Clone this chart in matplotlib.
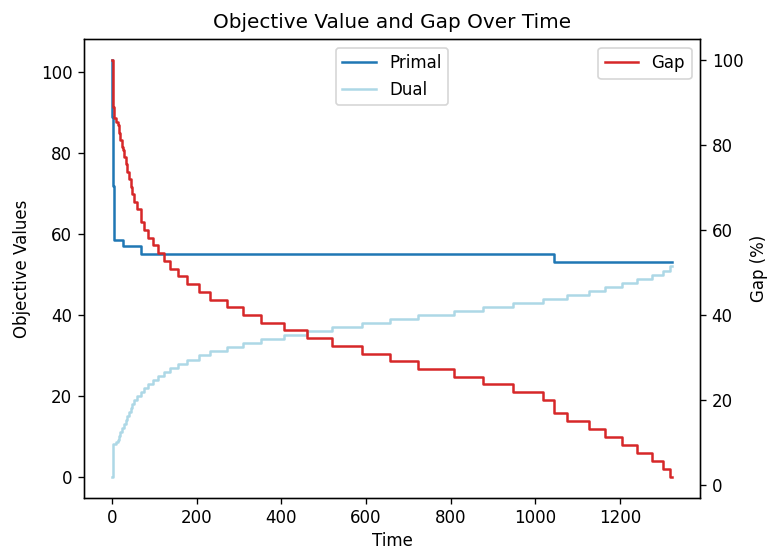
import numpy as np
import matplotlib
matplotlib.use("Agg")
import matplotlib.pyplot as plt

# Primal objective (step changes): time, value
primal_time = [0, 0.5, 1.5, 3.0, 4.5, 25, 68, 1045, 1323]
primal_value = [103, 89, 72, 72, 58.5, 57, 55, 53, 53]

# Dual bound (step changes): time, value
dual_time = [0, 1.5, 10, 13, 16, 20, 24, 28, 32, 36, 40, 44, 48, 53, 60, 68, 76, 84,
             96, 108, 122, 138, 156, 178, 205, 231, 271, 310, 353, 406, 461, 519,
             590, 657, 724, 807, 877, 948, 1019, 1074, 1126, 1165, 1204, 1240,
             1275, 1302, 1318, 1323]
dual_value = [0, 8, 8.5, 9, 10, 11, 12, 13, 14, 15, 16, 17, 18, 19, 20, 21, 22, 23,
              24, 25, 26, 27, 28, 29, 30, 31, 32, 33, 34, 35, 36, 37,
              38, 39, 40, 41, 42, 43, 44, 45, 46, 47, 48, 49,
              50, 51, 52, 52]

# Gap (%) derived from primal and dual on the merged time grid
time_grid = np.unique(np.concatenate([primal_time, dual_time]))
p_idx = np.searchsorted(primal_time, time_grid, side="right") - 1
d_idx = np.searchsorted(dual_time, time_grid, side="right") - 1
p_on_grid = np.asarray(primal_value)[p_idx]
d_on_grid = np.asarray(dual_value)[d_idx]
gap_value = (p_on_grid - d_on_grid) / p_on_grid * 100

DPI = 120
fig, ax1 = plt.subplots(figsize=(767 / DPI, 550 / DPI), dpi=DPI)
fig.subplots_adjust(left=84/767, right=700/767, top=1 - 39.3/550, bottom=1 - 497.7/550)

ax1.plot(primal_time, primal_value, drawstyle="steps-post", color="#1f77b4", label="Primal")
ax1.plot(dual_time, dual_value, drawstyle="steps-post", color="lightblue", label="Dual")
ax1.set_xlabel("Time", labelpad=2.5)
ax1.set_ylabel("Objective Values", labelpad=6)
ax1.legend(loc="upper center")

ax2 = ax1.twinx()
ax2.plot(time_grid, gap_value, drawstyle="steps-post", color="tab:red", label="Gap")
ax2.set_ylabel("Gap (%)")
ax2.legend(loc="upper right")

ax1.set_title("Objective Value and Gap Over Time", pad=7)

fig.savefig("out.png", dpi=DPI)
